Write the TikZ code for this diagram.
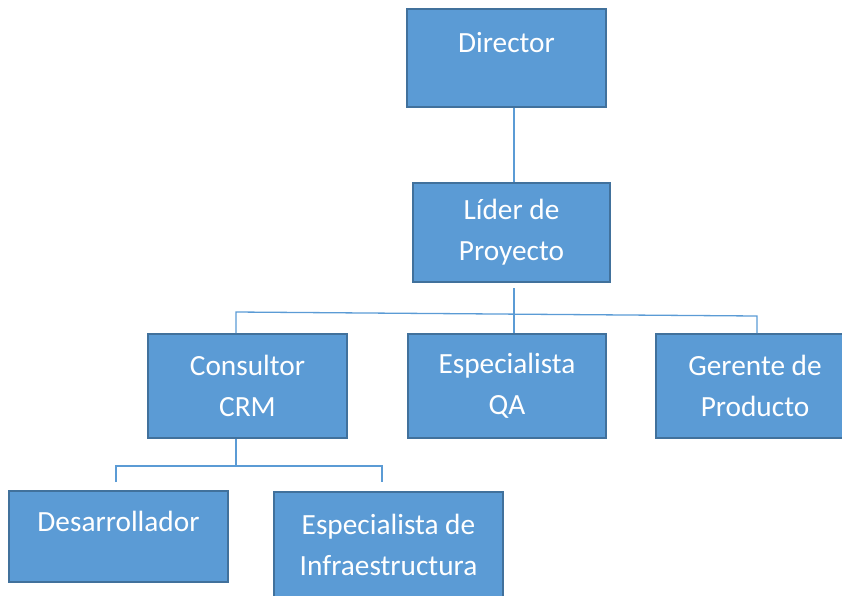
\documentclass[tikz,border=0pt]{standalone}
\usepackage{fontspec}
\setmainfont{Carlito}
\definecolor{cajafondo}{HTML}{5B9BD5}
\definecolor{cajaborde}{HTML}{41719C}
\definecolor{linea}{HTML}{5B9BD5}
\begin{document}
\begin{tikzpicture}[x=1pt, y=-1pt,
		caja/.style={draw=cajaborde, fill=cajafondo, line width=2pt, text=white, align=center,
			inner sep=0pt, font=\fontsize{29.3}{41}\selectfont},
		conn/.style={draw=linea, line width=1.3pt},
	]
	\useasboundingbox (0,0) rectangle (842,595);
	\clip (0,0) rectangle (842,595);

	\node[caja, minimum width=199pt, minimum height=98pt] (dir) at (506.5,58) {Director\\[-10pt]\mbox{}};
	\node[caja, minimum width=197pt, minimum height=99pt] (lider) at (511.5,232.5) {Líder de\\Proyecto};
	\node[caja, minimum width=199pt, minimum height=104pt] (crm) at (247.5,386) {Consultor\\CRM};
	\node[caja, minimum width=198pt, minimum height=104pt] (qa) at (507,386) {Especialista\\QA};
	\node[caja, minimum width=198pt, minimum height=104pt] (ger) at (755,386) {Gerente de\\Producto};
	\node[caja, minimum width=219pt, minimum height=91pt] (dev) at (118.5,536.5) {Desarrollador\\[-10pt]\mbox{}};
	\node[caja, minimum width=229pt, minimum height=105pt] (infra) at (388.5,544.5) {Especialista de\\Infraestructura};

	% director -> lider
	\draw[conn] ([xshift=7.5pt]dir.south) -- ([xshift=2.5pt]lider.north);
	% lider -> fila 2
	\draw[conn] ([xshift=2.5pt,yshift=-5pt]lider.south) -- ([xshift=7pt]qa.north);
	\draw[conn] ([xshift=-11.5pt]crm.north) -- ++(0,-21) -- ([xshift=2pt,yshift=17pt]ger.north) -- ([xshift=2pt]ger.north);
	% consultor -> fila 3
	\draw[conn] ([xshift=-11.5pt]crm.south) -- ++(0,27) coordinate (fork);
	\draw[conn] ([xshift=-2.5pt,yshift=8pt]dev.north) |- (fork) -| ([xshift=-6.5pt,yshift=9pt]infra.north);
\end{tikzpicture}
\end{document}
